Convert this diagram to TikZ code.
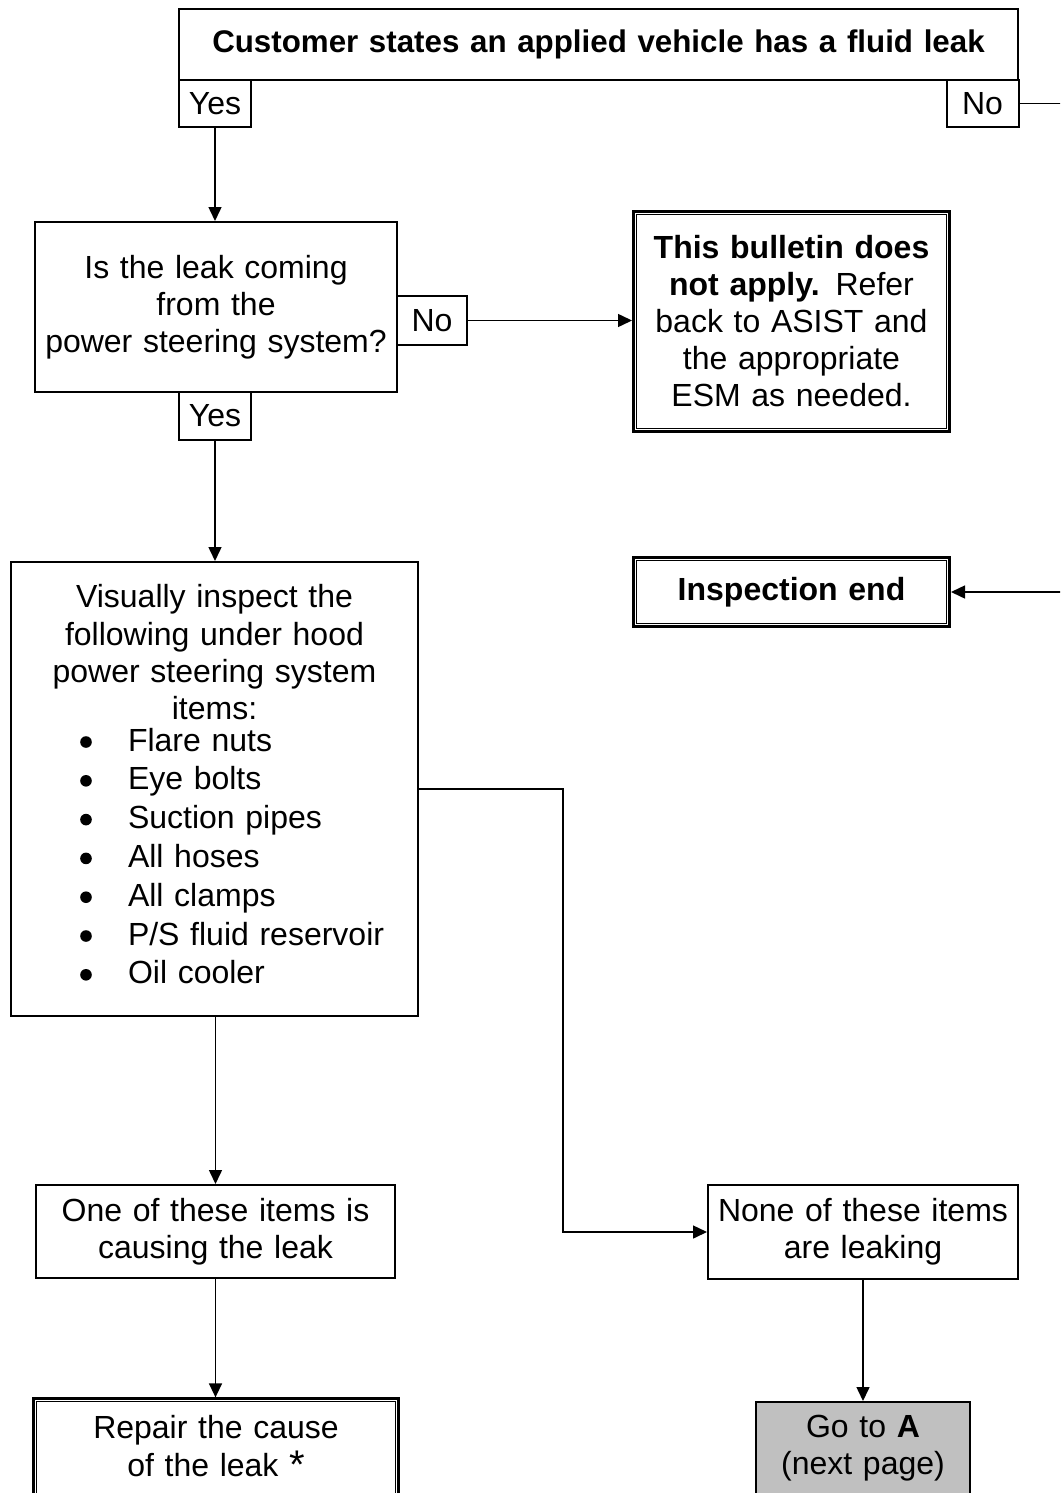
\documentclass[tikz,border=0pt]{standalone}
\usepackage{fontspec}
\setmainfont{Liberation Sans}
\usetikzlibrary{arrows.meta}
\definecolor{boxgray}{RGB}{192,192,192}
\tikzset{
  fc/.style={draw, line width=2pt, inner sep=0pt, align=center, font=\fontsize{32}{37}\selectfont},
  dbl/.style={fc, line width=2.7pt},
  innerline/.style={line width=1pt},
  conn/.style={line width=1.5pt, -{Triangle[length=14pt,width=13pt]}},
  bulletdot/.style={fill=black},
}
\begin{document}
\begin{tikzpicture}[x=1pt,y=-1pt]
\useasboundingbox (0,0) rectangle (1060,1493);
\clip (0,0) rectangle (1060,1493);
\fill[white] (0,0) rectangle (1060,1493);

% top question
\node[fc, minimum width=839pt, minimum height=71pt, text width=839pt] (top) at (598.5,44.5)
  {\fontsize{31.3}{37}\selectfont\textbf{Customer states an applied vehicle has a fluid leak}};
\node[fc, minimum width=72pt, minimum height=47pt, text width=72pt] (yes1) at (215,103.5) {Yes};
\node[fc, minimum width=72pt, minimum height=47pt, text width=72pt] (no1) at (982.5,103.5) {No};

% power steering question
\node[fc, minimum width=362pt, minimum height=170pt, text width=362pt] (q) at (216,307)
  {Is the leak coming\\from the\\power steering system?};
\node[fc, minimum width=70pt, minimum height=49pt, text width=70pt] (no2) at (432,320.5) {No};
\node[fc, minimum width=72pt, minimum height=48pt, text width=72pt] (yes2) at (215,416) {Yes};

% bulletin does not apply
\node[dbl, minimum width=316.3pt, minimum height=220.3pt, text width=316.3pt] (bul) at (791.5,321.5)
  {\textbf{This bulletin does}\\\textbf{not apply.} Refer\\back to ASIST and\\the appropriate\\ESM as needed.};
\draw[innerline] ([shift={(4.5,4.5)}]bul.north west) rectangle ([shift={(-4.5,-4.5)}]bul.south east);

% inspection end
\node[dbl, minimum width=316.3pt, minimum height=69.3pt, text width=316.3pt] (ins) at (791.5,592)
  {\textbf{Inspection end}};
\draw[innerline] ([shift={(4.5,4.5)}]ins.north west) rectangle ([shift={(-4.5,-4.5)}]ins.south east);

% visual inspection
\node[fc, anchor=north, text width=407pt, align=left, text height=45.7pt, text depth=408.3pt] (vis) at (214.5,561)
  {{\centering\baselineskip=37.3pt Visually inspect the\\following under hood\\power steering system\\items:\par}%
   \vspace{-7.4pt}%
   {\leftskip=117pt\rightskip=0pt plus 1fil\parindent=0pt\baselineskip=38.8pt
   Flare nuts\par
   Eye bolts\par
   Suction pipes\par
   All hoses\par
   All clamps\par
   P/S fluid reservoir\par
   Oil cooler\par}};
\foreach \k in {0,...,6}
  \fill[bulletdot] ([shift={(76,{181+38.8*\k})}]vis.north west) circle (5.8pt);

% outcomes
\node[fc, minimum width=359pt, minimum height=93pt, text width=359pt] (one) at (215.5,1231.5)
  {One of these items is\\causing the leak};
\node[fc, minimum width=310pt, minimum height=94pt, text width=310pt] (none) at (863,1232)
  {None of these items\\are leaking};

\node[dbl, anchor=north, text width=365.3pt, text height=39.65pt, text depth=150pt] (rep) at (216,1397.35)
  {Repair the cause\\[1pt]of the leak {\fontsize{40}{40}\selectfont\raisebox{-2pt}{*}}};
\draw[innerline] ([shift={(4.5,4.5)}]rep.north west) rectangle ([shift={(-4.5,-4.5)}]rep.south east);

\node[fc, fill=boxgray, anchor=north, text width=214pt, text height=35pt, text depth=150pt] (goa) at (863,1401)
  {Go to \textbf{A}\\(next page)};

% connectors
\coordinate (offr) at (1080,0);
\coordinate (bend) at (563,0);
\draw[conn] (yes1.south) -- (yes1.south |- q.north);
\draw[conn] (no2.east) -- (no2.east -| bul.west);
\draw[conn] (no1.east) -- (no1.east -| offr) -- (offr |- ins.east) -- (ins.east);
\draw[conn] (yes2.south) -- (yes2.south |- vis.north);
\draw[conn] (vis.east) -- (vis.east -| bend) -- (bend |- none.west) -- (none.west);
\draw[conn] (one.north |- vis.south) -- (one.north);
\draw[conn] (one.south) -- (one.south |- rep.north);
\draw[conn] (none.south) -- (goa.north);
\end{tikzpicture}
\end{document}
